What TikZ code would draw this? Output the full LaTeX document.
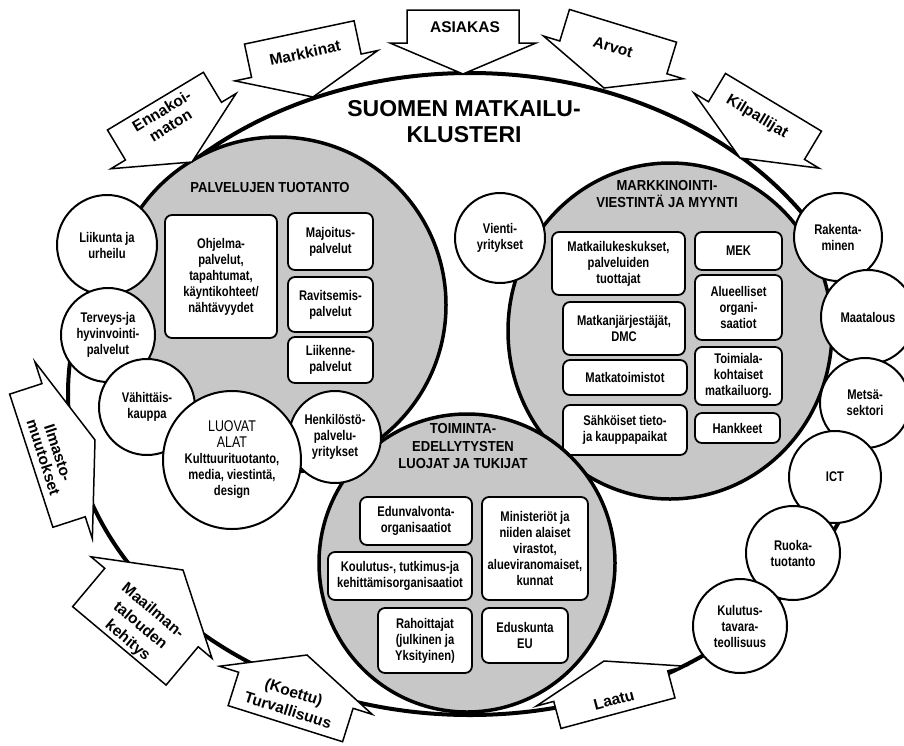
\documentclass[tikz,border=0pt]{standalone}
\usepackage{fontspec}
\setmainfont{Liberation Sans}
\newfontfamily\narrowsans[FakeStretch=0.8]{Liberation Sans}
\newfontfamily\headsans[FakeStretch=0.9]{Liberation Sans}
\usetikzlibrary{shapes.geometric}
\definecolor{sectorgray}{gray}{0.78}

\tikzset{
  sector/.style={ellipse, draw, line width=3.5pt, fill=sectorgray, inner sep=0pt},
  member/.style={circle, draw, line width=2pt, fill=white, inner sep=0pt, align=center,
    font=\narrowsans\bfseries\fontsize{14}{16}\selectfont},
  unit/.style={draw, line width=1.8pt, rounded corners=7pt, fill=white, inner sep=0pt, align=center,
    font=\narrowsans\bfseries\fontsize{14}{16}\selectfont},
  sectortitle/.style={align=center, inner sep=0pt, font=\headsans\bfseries\fontsize{14.5}{17.5}\selectfont},
  calloutline/.style={draw, line width=1.5pt, fill=white, line join=miter},
  callouttext/.style={align=center, inner sep=0pt, font=\bfseries\fontsize{15.5}{17}\selectfont},
}

% block arrow outline: #1 tip, #2 arrow angle, #3 body half width, #4 body length,
% #5 head half width, #6 head length
\newcommand\calloutshape[6]{%
  \begin{scope}[shift={#1}, rotate=#2]
    \draw[calloutline] (0,0) -- (#5,-#6) -- (#3,-#6) -- (#3,-#6-#4) -- (-#3,-#6-#4)
      -- (-#3,-#6) -- (-#5,-#6) -- cycle;
  \end{scope}}

\begin{document}
\begin{tikzpicture}[x=1pt, y=-1pt]
\useasboundingbox (0,0) rectangle (904,745);
\fill[white] (0,0) rectangle (904,745);

% cluster boundary
\node[ellipse, draw, line width=4pt, minimum width=804pt, minimum height=642pt, inner sep=0pt]
  (cluster) at (470,394) {};
\node[align=center, inner sep=0pt, font=\bfseries\fontsize{23}{26}\selectfont]
  (clustertitle) at (464,122) {SUOMEN MATKAILU-\\KLUSTERI};

% service production
\node[sector, minimum width=336pt, minimum height=336pt] (services) at (278,305) {};
\node[sectortitle] (servicestitle) at (270,188) {PALVELUJEN TUOTANTO};
\node[unit, minimum width=112pt, minimum height=123pt] (ohjelma) at (221,276.5)
  {Ohjelma-\\palvelut,\\tapahtumat,\\käyntikohteet/\\nähtävyydet};
\node[unit, minimum width=85pt, minimum height=57pt] (majoitus) at (330.5,241.5) {Majoitus-\\palvelut};
\node[unit, minimum width=85pt, minimum height=55pt] (ravitsemis) at (330.5,304.5) {Ravitsemis-\\palvelut};
\node[unit, minimum width=85pt, minimum height=46pt] (liikenne) at (330.5,360) {Liikenne-\\palvelut};

% marketing and sales
\node[sector, minimum width=324pt, minimum height=336pt] (marketing) at (670,331) {};
\node[sectortitle] (marketingtitle) at (667,194) {MARKKINOINTI-\\VIESTINTÄ JA MYYNTI};
\node[unit, minimum width=133pt, minimum height=63pt] (keskukset) at (618.5,263.5)
  {Matkailukeskukset,\\palveluiden\\tuottajat};
\node[unit, minimum width=122pt, minimum height=53pt] (jarjestajat) at (624,328.5) {Matkanjärjestäjät,\\DMC};
\node[unit, minimum width=124pt, minimum height=35pt] (toimistot) at (625,377.5) {Matkatoimistot};
\node[unit, minimum width=124pt, minimum height=50pt] (sahkoiset) at (625,430) {Sähköiset tieto-\\ja kauppapaikat};
\node[unit, minimum width=87pt, minimum height=38pt] (mek) at (738.5,251) {MEK};
\node[unit, minimum width=87pt, minimum height=65pt] (alueelliset) at (738.5,307.5) {Alueelliset\\organi-\\saatiot};
\node[unit, minimum width=87pt, minimum height=58pt] (toimiala) at (738.5,376) {Toimiala-\\kohtaiset\\matkailuorg.};
\node[unit, minimum width=85pt, minimum height=30pt] (hankkeet) at (737.5,428) {Hankkeet};

% enablers and supporters
\node[sector, minimum width=296pt, minimum height=298pt] (enablers) at (467,563) {};
\node[sectortitle] (enablerstitle) at (463,446) {TOIMINTA-\\EDELLYTYSTEN\\LUOJAT JA TUKIJAT};
\node[unit, minimum width=112pt, minimum height=48pt] (edunvalvonta) at (416,521) {Edunvalvonta-\\organisaatiot};
\node[unit, minimum width=144pt, minimum height=48pt] (koulutus) at (400,576)
  {Koulutus-, tutkimus-ja\\kehittämisorganisaatiot};
\node[unit, minimum width=94pt, minimum height=65pt] (rahoittajat) at (425,640.5)
  {Rahoittajat\\(julkinen ja\\Yksityinen)};
\node[unit, minimum width=106pt, minimum height=103pt] (ministeriot) at (535,548.5)
  {Ministeriöt ja\\niiden alaiset\\virastot,\\alueviranomaiset,\\kunnat};
\node[unit, minimum width=86pt, minimum height=55pt] (eduskunta) at (525,635.5) {Eduskunta\\EU};

% related fields, left
\node[member, minimum size=100pt] (liikunta) at (107,245) {Liikunta ja\\urheilu};
\node[member, minimum size=94pt] (terveys) at (108,335) {Terveys-ja\\hyvinvointi-\\palvelut};
\node[member, minimum size=96pt] (vahittais) at (147,407) {Vähittäis-\\kauppa};
\node[member, minimum size=92pt] (henkilosto) at (335,437) {Henkilöstö-\\palvelu-\\yritykset};
\node[member, minimum size=138pt] (luovat) at (232,460)
  {\mdseries\fontsize{15.5}{17}\selectfont LUOVAT\\\mdseries\fontsize{15.5}{17}\selectfont ALAT\\Kulttuurituotanto,\\media, viestintä,\\design};
\node[member, minimum size=90pt] (vienti) at (500,238) {Vienti-\\yritykset};

% related fields, right
\node[member, minimum size=88pt] (rakentaminen) at (838,237) {Rakenta-\\minen};
\node[member, minimum size=94pt] (maatalous) at (868,317) {Maatalous};
\node[member, minimum size=90pt] (metsa) at (865,403) {Metsä-\\sektori};
\node[member, minimum size=92pt] (ict) at (835,477) {ICT};
\node[member, minimum size=94pt] (ruoka) at (793,553) {Ruoka-\\tuotanto};
\node[member, minimum size=94pt] (kulutus) at (740,626) {Kulutus-\\tavara-\\teollisuus};

% external forces
\calloutshape{(463,74)}{0}{56}{33}{73}{31}
\node[callouttext] (asiakas) at (465,27) {ASIAKAS};
\calloutshape{(313,97)}{12}{56}{34}{73}{32}
\node[callouttext, rotate=12] (markkinat) at (305,53) {Markkinat};
\calloutshape{(192,162)}{31}{56}{35}{73}{36}
\node[callouttext, rotate=31, font=\bfseries\fontsize{15.5}{17}\selectfont] (ennakoimaton) at (166,118) {Ennakoi-\\maton};
\calloutshape{(604,88)}{-17}{56}{33}{73}{32}
\node[callouttext, rotate=-17] (arvot) at (613,47) {Arvot};
\calloutshape{(740,158)}{-31}{56}{33}{73}{32}
\node[callouttext, rotate=-31] (kilpailijat) at (757,117) {Kilpallijat};
\calloutshape{(95,440)}{108}{70}{34}{93}{33}
\node[callouttext, rotate=-72, font=\bfseries\fontsize{15.5}{15.5}\selectfont] (ilmasto) at (51,455) {Ilmasto-\\muutokset};
\calloutshape{(183,570)}{140}{61}{50}{79}{49}
\node[callouttext, rotate=-40, font=\bfseries\fontsize{15.5}{19.5}\selectfont] (maailmantalous) at (140,626) {Maailman-\\talouden\\kehitys};
\calloutshape{(307,655)}{162.5}{60}{35}{80}{37}
\node[callouttext, rotate=-17.5, font=\bfseries\fontsize{15.5}{19}\selectfont] (turvallisuus) at (291,701) {(Koettu)\\Turvallisuus};
\calloutshape{(604,661)}{195}{59}{28}{77}{26}
\node[callouttext, rotate=15] (laatu) at (614,700) {Laatu};
\end{tikzpicture}
\end{document}
